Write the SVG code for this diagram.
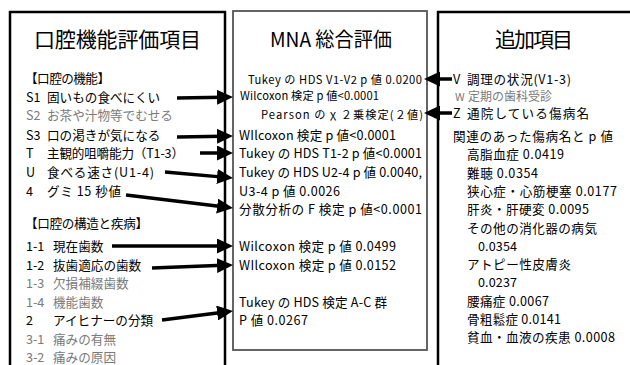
<svg xmlns="http://www.w3.org/2000/svg" width="630" height="365" viewBox="0 0 630 365">
<style>
text{font-family:"Noto Sans CJK JP","Noto Sans CJK SC",sans-serif;fill:#000}
.t{font-size:21px}
.l{font-size:12.6px}
.s{font-size:11.2px}
.g{fill:#7a7a7a}
.box{fill:#fff;stroke:#000;stroke-width:2.5}
.mid{fill:#fff;stroke:#555;stroke-width:1.8}
.arr{fill:none;stroke:#000;stroke-width:3.5;marker-end:url(#ah)}
</style>
<defs>
<marker id="ah" markerUnits="userSpaceOnUse" markerWidth="16" markerHeight="15" viewBox="0 0 16 15" refX="6" refY="7.5" orient="auto">
<path d="M0,0 L16,7.5 L0,15 z" fill="#000"/>
</marker>
</defs>
<rect width="630" height="365" fill="#fff"/>

<g id="left">
<rect class="box" x="10" y="12" width="215" height="400"/>
<text class="t" x="117.5" y="47" text-anchor="middle" textLength="167">口腔機能評価項目</text>
<text class="l" x="25" y="83" textLength="85">【口腔の機能】</text>
<text class="l" x="26" y="101.5">S1</text><text class="l" x="47" y="101.5">固いもの食べにくい</text>
<text class="l g" x="26" y="120">S2</text><text class="l g" x="47" y="120">お茶や汁物等でむせる</text>
<text class="l" x="26" y="139.5">S3</text><text class="l" x="47" y="139.5">口の渇きが気になる</text>
<text class="l" x="26" y="158">T</text><text class="l" x="47" y="158" textLength="137">主観的咀嚼能力（T1-3）</text>
<text class="l" x="26" y="177">U</text><text class="l" x="47" y="177" textLength="107">食べる速さ(U1-4)</text>
<text class="l" x="26" y="196">4</text><text class="l" x="47" y="196" textLength="74">グミ 15 秒値</text>
<text class="l" x="25" y="228" textLength="123">【口腔の構造と疾病】</text>
<text class="l" x="26" y="251">1-1</text><text class="l" x="53" y="251">現在歯数</text>
<text class="l" x="26" y="269.5">1-2</text><text class="l" x="53" y="269.5">抜歯適応の歯数</text>
<text class="l g" x="26" y="288">1-3</text><text class="l g" x="53" y="288">欠損補綴歯数</text>
<text class="l g" x="26" y="306.5">1-4</text><text class="l g" x="53" y="306.5">機能歯数</text>
<text class="l" x="26" y="325">2</text><text class="l" x="53" y="325">アイヒナーの分類</text>
<text class="l g" x="26" y="343.5">3-1</text><text class="l g" x="53" y="343.5">痛みの有無</text>
<text class="l g" x="26" y="362">3-2</text><text class="l g" x="53" y="362">痛みの原因</text>
</g>

<g id="middle">
<rect class="mid" x="233" y="11" width="194" height="339"/>
<text class="t" x="270" y="47" style="font-size:20px" textLength="122" lengthAdjust="spacingAndGlyphs">MNA 総合評価</text>
<text class="s" x="248" y="84" textLength="174">Tukey の HDS V1-V2 p 値 0.0200</text>
<text class="s" x="240" y="100" textLength="139">Wilcoxon 検定 p 値&lt;0.0001</text>
<text class="s" x="261" y="119" textLength="162">Pearson の χ ２乗検定(２値)</text>
<text class="l" x="239" y="140" textLength="157">WIlcoxon 検定 p 値&lt;0.0001</text>
<text class="l" x="239" y="158" textLength="183">Tukey の HDS T1-2 p 値&lt;0.0001</text>
<text class="l" x="239" y="177" textLength="183">Tukey の HDS U2-4 p 値 0.0040,</text>
<text class="l" x="239" y="196" textLength="101">U3-4 p 値 0.0026</text>
<text class="l" x="239" y="214" textLength="183">分散分析の F 検定 p 値&lt;0.0001</text>
<text class="l" x="239" y="251" textLength="157">Wilcoxon 検定 p 値 0.0499</text>
<text class="l" x="239" y="269.5" textLength="157">WIlcoxon 検定 p 値 0.0152</text>
<text class="l" x="239" y="306.5" textLength="148">Tukey の HDS 検定 A-C 群</text>
<text class="l" x="239" y="325" textLength="69">P 値 0.0267</text>
</g>

<g id="right">
<rect class="box" x="438" y="12" width="250" height="400"/>
<text class="t" x="495" y="47" textLength="78">追加項目</text>
<text class="l" x="453" y="83.5">V</text><text class="l" x="467" y="83.5" textLength="104">調理の状況(V1-3)</text>
<text class="l g" x="455" y="100.5" style="font-size:11px">W</text><text class="l g" x="468" y="100.5" style="font-size:12px">定期の歯科受診</text>
<text class="l" x="453" y="118">Z</text><text class="l" x="467" y="118" textLength="122">通院している傷病名</text>
<text class="l" x="453" y="141" textLength="160">関連のあった傷病名と p 値</text>
<text class="l" x="467" y="159.3" textLength="97">高脂血症 0.0419</text>
<text class="l" x="467" y="177.6" textLength="71">難聴 0.0354</text>
<text class="l" x="467" y="195.9" textLength="150">狭心症・心筋梗塞 0.0177</text>
<text class="l" x="467" y="214.2" textLength="122">肝炎・肝硬変 0.0095</text>
<text class="l" x="467" y="232.5" textLength="130">その他の消化器の病気</text>
<text class="l" x="478" y="250.8" textLength="39">0.0354</text>
<text class="l" x="467" y="269.1" textLength="104">アトピー性皮膚炎</text>
<text class="l" x="478" y="287.4" textLength="39">0.0237</text>
<text class="l" x="467" y="305.7" textLength="82">腰痛症 0.0067</text>
<text class="l" x="467" y="324" textLength="94">骨粗鬆症 0.0141</text>
<text class="l" x="467" y="342.3" textLength="148">貧血・血液の疾患 0.0008</text>
</g>

<g id="connectors">
<path class="arr" d="M177,98 L223,97.2"/>
<path class="arr" d="M177,137 L223,136.2"/>
<path class="arr" d="M200,153 L223,153"/>
<path class="arr" d="M165,172 L223.04,177.12"/>
<path class="arr" d="M126,195 L223.07,206.79"/>
<path class="arr" d="M112,246 L223,246"/>
<path class="arr" d="M152,268 L223.01,265.37"/>
<path class="arr" d="M162,320 L223.08,312.26"/>
<path class="arr" d="M452,79 L434,79"/>
<path class="arr" d="M452,113 L434,113"/>
</g>
</svg>
